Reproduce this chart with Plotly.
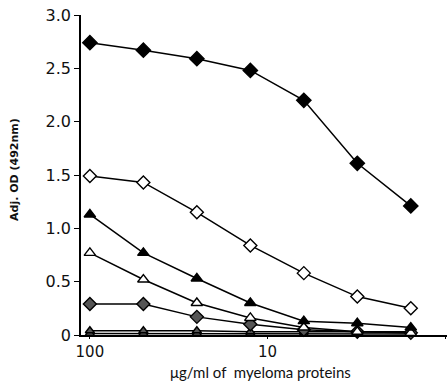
import plotly.graph_objects as go

conc = [100, 50, 25, 12.5, 6.25, 3.125, 1.5625]

filled_diamond = [2.74, 2.67, 2.59, 2.48, 2.20, 1.61, 1.21]
open_diamond = [1.49, 1.43, 1.15, 0.84, 0.58, 0.36, 0.25]
filled_triangle = [1.13, 0.77, 0.53, 0.30, 0.13, 0.11, 0.07]
open_triangle = [0.77, 0.52, 0.30, 0.16, 0.07, 0.03, 0.02]
half_diamond = [0.29, 0.29, 0.17, 0.10, 0.05, 0.03, 0.02]
base_a = [0.04, 0.04, 0.04, 0.03, 0.03, 0.03, 0.03]
base_b = [0.015, 0.015, 0.015, 0.015, 0.01, 0.01, 0.01]

y_ticks = [0, 0.5, 1.0, 1.5, 2.0, 2.5, 3.0]
y_ticktext = ["0", "0.5", "1.0", "1.5", "2.0", "2.5", "3.0"]
x_ticks = [100, 10, 1]
x_ticktext = ["100", "10", "1"]

series = [
    (base_b, "triangle-up", "#555555", 8),
    (base_a, "triangle-up", "#555555", 8),
    (half_diamond, "diamond", "#555555", 10),
    (open_triangle, "triangle-up", "white", 10),
    (filled_triangle, "triangle-up", "black", 10),
    (open_diamond, "diamond", "white", 10),
    (filled_diamond, "diamond", "black", 11),
]

fig = go.Figure()
for vals, sym, fill, size in series:
    fig.add_trace(go.Scatter(
        x=conc, y=vals, mode="lines+markers",
        line=dict(color="black", width=1.5),
        marker=dict(symbol=sym, size=size, color=fill,
                    line=dict(color="black", width=1.4)),
        cliponaxis=False, showlegend=False))

tickfont = "'DejaVu Sans', sans-serif"
font = "Lato, 'DejaVu Sans', sans-serif"

L, R, T, B = 81, 1, 15, 52
pw = 448 - L - R
ph = 387 - T - B

def px(x):
    return (x - L) / pw

def py(y):
    return (387 - B - y) / ph

fig.update_layout(
    width=448, height=387,
    margin=dict(l=L, r=R, t=T, b=B),
    paper_bgcolor="white", plot_bgcolor="white",
    font=dict(family=font, color="#111111"),
    xaxis=dict(type="log", range=[2.05, -0.01], tickvals=x_ticks,
               ticktext=x_ticktext, showgrid=False, zeroline=False,
               showline=True, linecolor="black", linewidth=1.5,
               ticks="outside", ticklen=2, tickcolor="black",
               tickfont=dict(size=15, family=tickfont)),
    yaxis=dict(range=[0, 3.0], tickvals=y_ticks, ticktext=y_ticktext,
               showgrid=False, zeroline=False, showline=True,
               linecolor="black", linewidth=1.5, ticks="outside",
               ticklen=5, tickcolor="black",
               tickfont=dict(size=16, family=tickfont)),
    annotations=[
        dict(text="<b>Adj. OD (492nm)</b>", x=px(14), y=py(170),
             xref="paper", yref="paper", xanchor="center",
             yanchor="middle", showarrow=False, textangle=-90,
             font=dict(size=11, family="'DejaVu Sans', sans-serif")),
        dict(text="μg/ml of  myeloma proteins", x=px(260), y=py(372),
             xref="paper", yref="paper", xanchor="center",
             yanchor="middle", showarrow=False,
             font=dict(size=15, family=font)),
    ],
)

fig.write_html("out.html")
